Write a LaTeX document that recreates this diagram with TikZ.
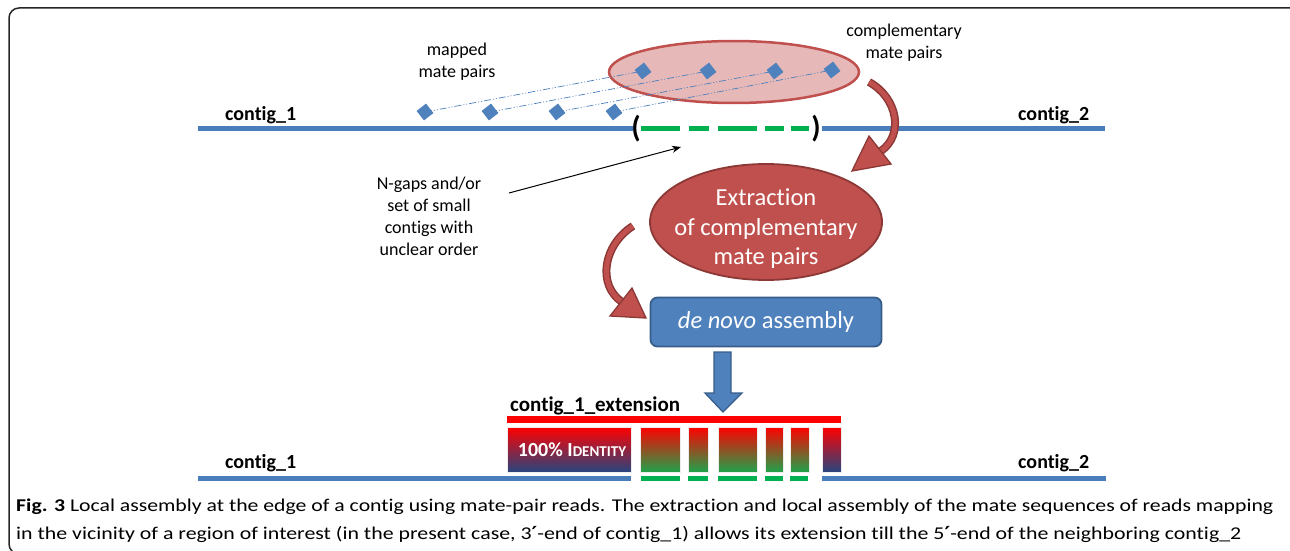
\documentclass[tikz,border=0pt]{standalone}
\usepackage{fontspec}
\setmainfont{Carlito}[Ligatures={NoCommon}]
\newfontfamily\djv{DejaVu Sans}
\usetikzlibrary{arrows.meta,shapes.geometric}
\definecolor{cblue}{HTML}{4A7EBB}
\definecolor{bfill}{HTML}{4F81BD}
\definecolor{bdraw}{HTML}{385D8A}
\definecolor{cgreen}{HTML}{00B050}
\definecolor{pinkfill}{HTML}{E6B9B8}
\definecolor{rfill}{HTML}{C0504D}
\definecolor{rdraw}{HTML}{8C3836}
\definecolor{navy}{HTML}{27457E}
\definecolor{gbot}{HTML}{1FA34A}
\pgfdeclarelayer{back}
\pgfdeclarelayer{mid}
\pgfsetlayers{back,mid,main}
\tikzset{
  lbl/.style={font=\fontsize{18}{22}\selectfont, align=center, inner sep=0pt},
  ctg/.style={font=\fontsize{20}{22}\bfseries\selectfont, inner sep=0pt, anchor=base west},
  mp/.style={rectangle, fill=bfill, minimum size=12pt, inner sep=0pt, rotate=38},
  mpline/.style={cblue, line width=0.7pt, dash pattern=on 7pt off 2pt on 1pt off 2pt on 1pt off 2pt},
  contigline/.style={cblue, line width=5pt},
  gapline/.style={cgreen, line width=5pt},
  redarrow/.style={rdraw, line width=8pt},
  redarrowin/.style={rfill, line width=5pt},
  redhead/.style={fill=rfill, draw=rdraw, line width=1.3pt, line join=miter},
  bigell/.style={ellipse, fill=rfill, draw=rdraw, line width=1.8pt, minimum width=232pt, minimum height=116pt, inner sep=0pt},
  ellt/.style={text=white, align=center, inner sep=0pt, font=\fontsize{24.5}{29.5}\selectfont},
  assbox/.style={rectangle, rounded corners=7pt, fill=bfill, draw=bdraw, line width=1.8pt, minimum width=231pt, minimum height=49pt, text=white, font=\fontsize{24.5}{26}\selectfont},
  blk/.style={draw=white!85!gray, line width=0.6pt},
  capt/.style={font=\fontsize{18}{20}\selectfont, inner sep=0pt, anchor=base west}
}
\begin{document}
\begin{tikzpicture}[x=1pt,y=-1pt]
\useasboundingbox (0,0) rectangle (1290,551);
\clip (0,0) rectangle (1290,551);
% frame
\draw[black!85, line width=1.5pt, rounded corners=10pt] (9,8) rectangle (1310,554);

% top contigs
\draw[contigline] (198,128) -- (633,128);
\draw[contigline] (822,128) -- (1105,128);
\node[ctg] (c1t) at (225,120) {contig\_1};
\node[ctg] (c2t) at (1018,120) {contig\_2};
% gap dashes
\foreach \a/\b in {641/680,689/709,718/757,765/784,791/809}
  \draw[gapline] (\a,128) -- (\b,128);
\node[font=\fontsize{30}{30}\bfseries\selectfont, inner sep=0pt] (bl) at (636,129) {(};
\node[font=\fontsize{30}{30}\bfseries\selectfont, inner sep=0pt] (br) at (816,129) {)};

% complementary ellipse
\begin{pgfonlayer}{back}
\node[ellipse, fill=pinkfill, draw=rfill, line width=2.5pt, minimum width=250pt, minimum height=62pt, inner sep=0pt] (cell) at (734,72) {};
\end{pgfonlayer}

% mate pairs
\node[mp] (l1) at (425,112) {};
\node[mp] (l2) at (490,112) {};
\node[mp] (l3) at (557,112) {};
\node[mp] (l4) at (614,112) {};
\node[mp] (u1) at (643,71) {};
\node[mp] (u2) at (708,71) {};
\node[mp] (u3) at (775,71) {};
\node[mp] (u4) at (832,70) {};
\begin{pgfonlayer}{mid}
\foreach \i in {1,2,3,4}
  \draw[mpline] (l\i.center) -- (u\i.center);
\end{pgfonlayer}

\node[lbl] (mmp) at (457,62) {mapped\\mate pairs};
\node[lbl] (cmp) at (904,43) {complementary\\mate pairs};

% N-gaps label and arrow
\node[lbl] (ngap) at (429,216) {N-gaps and/or\\set of small\\contigs with\\unclear order};
\coordinate (ngs) at (509,193);
\coordinate (ngt) at (681,147);
\draw[black, line width=1pt, -{Stealth[length=9pt,width=7pt]}] (ngs) -- (ngt);

% extraction ellipse
\node[bigell] (ext) at (766,222) {};
\node[ellt] (extt) at (766,229) {Extraction\\of complementary\\mate pairs};
% de novo box
\node[assbox] (dn) at (766,322) {\textit{de novo} assembly};

% right curved arrow
\draw[redarrow] (869,82) .. controls (898,98) and (904,135) .. (881,151);
\draw[redarrowin] (869,82) .. controls (898,98) and (904,135) .. (881,151);
\draw[redhead] (891,164) -- (852,171) -- (869,136) -- cycle;
% left curved arrow
\draw[redarrow] (633,226) .. controls (603,245) and (597,285) .. (622,302);
\draw[redarrowin] (633,226) .. controls (603,245) and (597,285) .. (622,302);
\draw[redhead] (632,288) -- (646,318) -- (610,316) -- cycle;

% down block arrow
\draw[fill=bfill, draw=bdraw, line width=1.3pt, line join=miter]
  (714,352) -- (731,352) -- (731,393) -- (742,393) -- (723,412) -- (705,393) -- (714,393) -- cycle;

% extension
\node[ctg, font=\fontsize{21}{22}\bfseries\selectfont] (ext1) at (510,411) {contig\_1\_extension};
\fill[red] (507,416) rectangle (841,423);
\shade[top color=red, bottom color=navy] (507,427) rectangle (631,472);
\draw[blk] (507,427) rectangle (631,472);
\foreach \a/\b in {640/680,688/708,718/757,765/783,790/809}{
  \shade[top color=red, bottom color=gbot] (\a,427) rectangle (\b,472);
  \draw[blk] (\a,427) rectangle (\b,472);
}
\shade[top color=red, bottom color=navy] (822,427) rectangle (841,472);
\draw[blk] (822,427) rectangle (841,472);
\node[text=white, font=\fontsize{20}{22}\bfseries\selectfont, inner sep=0pt] (idt) at (572,450) {100\% I{\fontsize{15}{16}\selectfont DENTITY}};

% bottom contigs
\draw[contigline] (198,478) -- (631,478);
\draw[contigline] (822,478) -- (1106,478);
\foreach \a/\b in {641/680,688/708,718/757,765/783,790/808}
  \draw[gapline] (\a,478) -- (\b,478);
\node[ctg] (c1b) at (225,468) {contig\_1};
\node[ctg] (c2b) at (1018,468) {contig\_2};

% caption
\node[capt] (cap1) at (16,511) {\resizebox{1257pt}{\height}{\textbf{Fig. 3} Local assembly at the edge of a contig using mate-pair reads. The extraction and local assembly of the mate sequences of reads mapping}};
\node[capt] (cap2) at (16,539) {\resizebox{1225pt}{\height}{in the vicinity of a region of interest (in the present case, 3{\djv\bfseries ′}-end of contig\_1) allows its extension till the 5{\djv\bfseries ′}-end of the neighboring contig\_2}};
\end{tikzpicture}
\end{document}
